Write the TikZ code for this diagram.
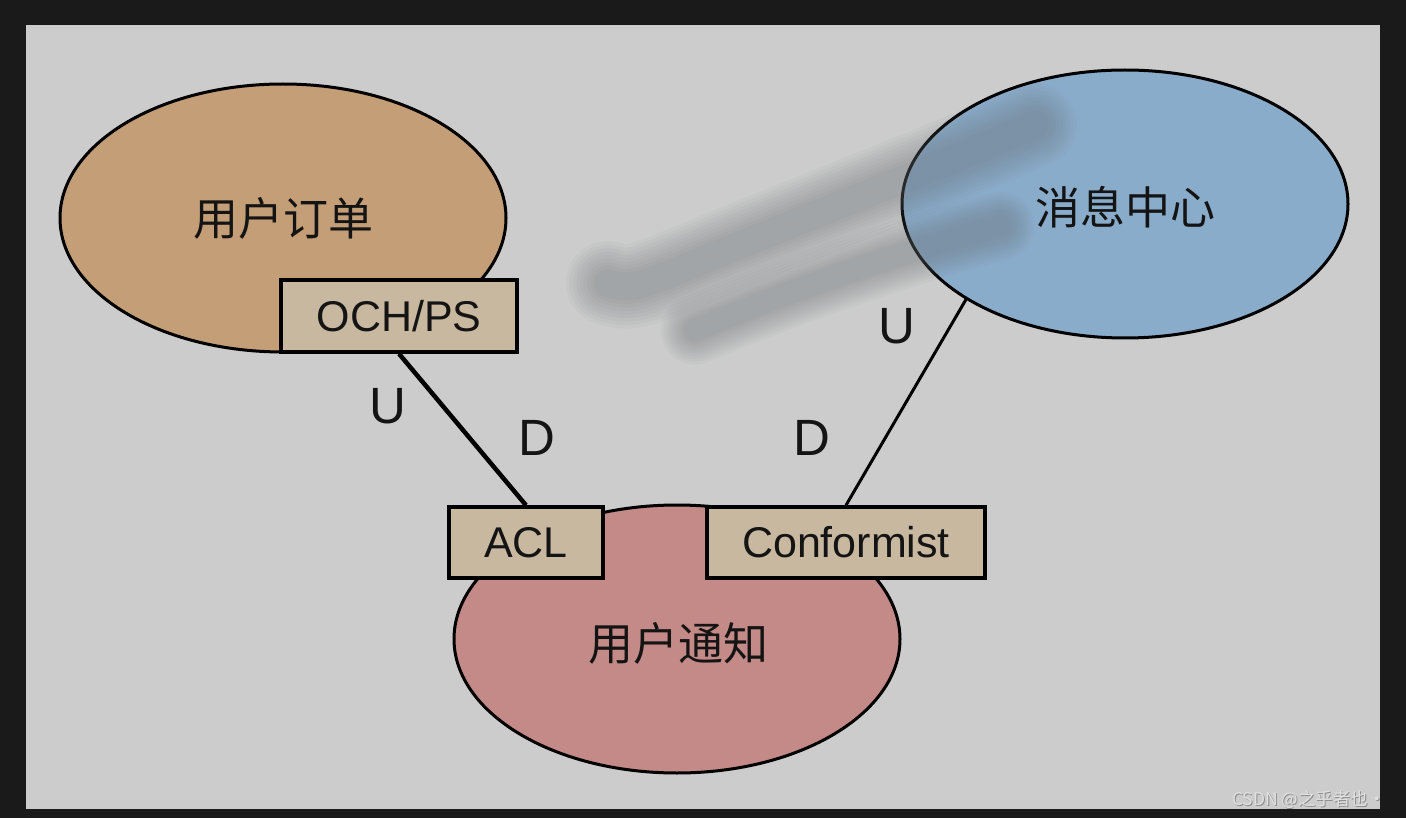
\documentclass[tikz,border=0pt]{standalone}
\usepackage{fontspec}
\setmainfont{Liberation Sans}
\newfontfamily\cjk{Noto Sans CJK SC}
\usetikzlibrary{shapes.geometric}
\definecolor{frame}{HTML}{1A1A1A}
\definecolor{canvas}{HTML}{CCCCCC}
\definecolor{orangefill}{HTML}{C49E76}
\definecolor{bluefill}{HTML}{8AACCB}
\definecolor{pinkfill}{HTML}{C48A87}
\definecolor{boxfill}{HTML}{C8B8A0}
\definecolor{smudge}{HTML}{6E7378}
\tikzset{
  ctx/.style={ellipse, draw=black, line width=3pt, minimum width=446pt, minimum height=268pt, inner sep=0pt},
  ctxlabel/.style={font=\cjk\fontsize{45}{50}\selectfont, text=black!92},
  layerbox/.style={rectangle, draw=black, line width=3.5pt, fill=boxfill, inner sep=0pt, font=\fontsize{43}{48}\selectfont, text=black!92},
  relabel/.style={font=\fontsize{51}{56}\selectfont, text=black!92},
  link/.style={draw=black, line width=3pt},
}
\begin{document}
\begin{tikzpicture}[x=1pt,y=-1pt]
\useasboundingbox (0,0) rectangle (1406,818);
\fill[frame] (0,0) rectangle (1406,818);
\fill[canvas] (26,25) rectangle (1380,809);
% contexts
\node[ctx, fill=orangefill] (order) at (283,218) {};
\node[ctxlabel] (orderlbl) at (283,218) {用户订单};
\node[ctx, fill=bluefill] (msg) at (1125,204) {};
\node[ctxlabel] (msglbl) at (1125,207) {消息中心};
\node[ctx, fill=pinkfill] (notify) at (677,639) {};
\node[ctxlabel] (notifylbl) at (678,643) {用户通知};
% boxes
\node[layerbox, minimum width=236pt, minimum height=72pt] (och) at (399,316) {OCH/PS};
\node[layerbox, minimum width=154pt, minimum height=71pt] (acl) at (526,542.5) {ACL};
\node[layerbox, minimum width=278pt, minimum height=71pt] (conf) at (846,542.5) {Conformist};
% connectors
\draw[link, line width=4.5pt] (och.south) -- (acl.north);
\draw[link] (conf.north) -- (msg.211);
% labels
\node[relabel] (u1) at (388,406) {U};
\node[relabel] (d1) at (537,438) {D};
\node[relabel] (d2) at (812,438) {D};
\node[relabel] (u2) at (897,326) {U};
% blurred smudge
\foreach \w in {84,77,70,63,56,49,42,35,28} {
  \draw[smudge, opacity=0.055, line width=\w pt, line cap=round, line join=round]
    (608,283) .. controls (630,292) and (645,282) .. (665,276)
    .. controls (770,232) and (900,182) .. (1035,125);
  \draw[smudge, opacity=0.055, line width=0.82*\w pt, line cap=round, line join=round]
    (695,330) .. controls (790,290) and (900,252) .. (1000,226);
}
% watermark
\node[font=\cjk\fontsize{17.5}{19}\selectfont, text=black!45, anchor=east] (wm0) at (1390.5,800.5) {CSDN @之乎者也·};
\node[font=\cjk\fontsize{17.5}{19}\selectfont, text=white!88!black, anchor=east] (wm) at (1389.5,799.5) {CSDN @之乎者也·};
\end{tikzpicture}
\end{document}
